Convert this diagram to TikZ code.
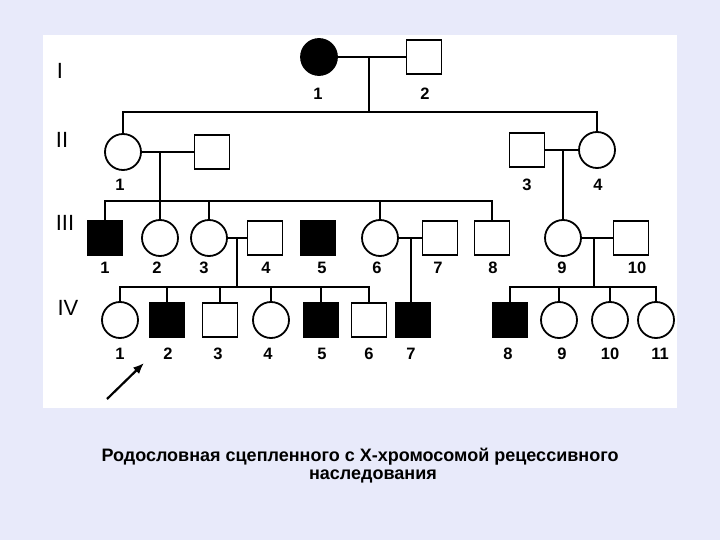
\documentclass[tikz,border=0pt]{standalone}
\usepackage{fontspec}
\setmainfont{Liberation Sans}
\usetikzlibrary{shapes.geometric,arrows.meta}
\definecolor{bg}{RGB}{232,234,250}
\begin{document}
\begin{tikzpicture}[x=1pt,y=-1pt,
  fem/.style={ellipse, draw, line width=1.8pt, minimum width=36pt, minimum height=36pt, inner sep=0pt},
  male/.style={rectangle, draw, line width=1.8pt, minimum width=35pt, minimum height=34pt, inner sep=0pt},
  aff/.style={fill=black},
  ln/.style={line width=1.8pt},
  lbl/.style={font=\fontsize{16.5}{16.5}\selectfont\bfseries, inner sep=0pt},
  gen/.style={font=\fontsize{22}{22}\selectfont, inner sep=0pt},
  ttl/.style={font=\fontsize{18}{18}\selectfont\bfseries, inner sep=0pt}]
\useasboundingbox (0,0) rectangle (720,540);
\fill[bg] (0,0) rectangle (720,540);
\fill[white] (43,35) rectangle (677,408);

% generation labels
\node[gen] (gI) at (60,71) {I};
\node[gen] (gII) at (62,140) {II};
\node[gen] (gIII) at (65,223) {III};
\node[gen] (gIV) at (68,308) {IV};

% generation I
\node[fem,aff] (I1) at (319,57) {};
\node[male] (I2) at (424,57) {};
\node[lbl] (lI1) at (318,94) {1};
\node[lbl] (lI2) at (425,94) {2};

% generation II
\node[fem] (II1) at (123,152) {};
\node[male] (II2) at (212,152) {};
\node[male] (II3) at (527,150) {};
\node[fem] (II4) at (597,150) {};
\node[lbl] (lII1) at (120,185) {1};
\node[lbl] (lII3) at (527,185) {3};
\node[lbl] (lII4) at (598,185) {4};

% generation III
\node[male,aff] (III1) at (105,238) {};
\node[fem] (III2) at (160,238) {};
\node[fem] (III3) at (209,238) {};
\node[male] (III4) at (265,238) {};
\node[male,aff] (III5) at (318,238) {};
\node[fem] (III6) at (380,238) {};
\node[male] (III7) at (440,238) {};
\node[male] (III8) at (492,238) {};
\node[fem] (III9) at (563,238) {};
\node[male] (III10) at (631,238) {};
\node[lbl] (lIII1) at (105,268) {1};
\node[lbl] (lIII2) at (157,268) {2};
\node[lbl] (lIII3) at (204,268) {3};
\node[lbl] (lIII4) at (266,268) {4};
\node[lbl] (lIII5) at (322,268) {5};
\node[lbl] (lIII6) at (377,268) {6};
\node[lbl] (lIII7) at (438,268) {7};
\node[lbl] (lIII8) at (493,268) {8};
\node[lbl] (lIII9) at (562,268) {9};
\node[lbl] (lIII10) at (637,268) {10};

% generation IV
\node[fem] (IV1) at (120,320) {};
\node[male,aff] (IV2) at (167,320) {};
\node[male] (IV3) at (220,320) {};
\node[fem] (IV4) at (271,320) {};
\node[male,aff] (IV5) at (321,320) {};
\node[male] (IV6) at (369,320) {};
\node[male,aff] (IV7) at (413,320) {};
\node[male,aff] (IV8) at (510,320) {};
\node[fem] (IV9) at (559,320) {};
\node[fem] (IV10) at (610,320) {};
\node[fem] (IV11) at (656,320) {};
\node[lbl] (lIV1) at (120,354) {1};
\node[lbl] (lIV2) at (168,354) {2};
\node[lbl] (lIV3) at (218,354) {3};
\node[lbl] (lIV4) at (268,354) {4};
\node[lbl] (lIV5) at (322,354) {5};
\node[lbl] (lIV6) at (369,354) {6};
\node[lbl] (lIV7) at (411,354) {7};
\node[lbl] (lIV8) at (508,354) {8};
\node[lbl] (lIV9) at (562,354) {9};
\node[lbl] (lIV10) at (610,354) {10};
\node[lbl] (lIV11) at (660,354) {11};

% coordinates for marriage midpoints and sibship lines
\coordinate (mI) at (369,57);
\coordinate (sI) at (369,112);
\coordinate (mII) at (160,152);
\coordinate (sII) at (160,201);
\coordinate (mIIb) at (563,150);
\coordinate (mIIIa) at (237,238);
\coordinate (sIVa) at (237,287);
\coordinate (mIIIb) at (411,238);
\coordinate (mIIIc) at (594,238);
\coordinate (sIVb) at (594,287);

% generation I connections
\draw[ln] (I1) -- (I2);
\draw[ln] (mI) -- (sI);
\draw[ln] (II1.north) -- (II1.north |- sI) -- (II4.north |- sI) -- (II4.north);

% generation II connections
\draw[ln] (II1) -- (II2);
\draw[ln] (II3) -- (II4);
\draw[ln] (mII) -- (III2.north);
\draw[ln] (mIIb) -- (III9.north);
\draw[ln] (III1.north) -- (III1.north |- sII) -- (III8.north |- sII) -- (III8.north);
\draw[ln] (III3.north) -- (III3.north |- sII);
\draw[ln] (III6.north) -- (III6.north |- sII);

% generation III connections
\draw[ln] (III3) -- (III4);
\draw[ln] (III6) -- (III7);
\draw[ln] (III9) -- (III10);
\draw[ln] (mIIIa) -- (sIVa);
\draw[ln] (mIIIb) -- (IV7.north -| mIIIb);
\draw[ln] (mIIIc) -- (sIVb);
\draw[ln] (IV1.north) -- (IV1.north |- sIVa) -- (IV6.north |- sIVa) -- (IV6.north);
\foreach \n in {IV2,IV3,IV4,IV5} \draw[ln] (\n.north) -- (\n.north |- sIVa);
\draw[ln] (IV8.north) -- (IV8.north |- sIVb) -- (IV11.north |- sIVb) -- (IV11.north);
\foreach \n in {IV9,IV10} \draw[ln] (\n.north) -- (\n.north |- sIVb);

% proband arrow
\coordinate (ar1) at (107,399);
\coordinate (ar2) at (144,363);
\draw[line width=2.2pt, -{Latex[length=11pt,width=9pt]}] (ar1) -- (ar2);

% title
\node[ttl] (t1) at (360,457) {Родословная сцепленного с Х-хромосомой рецессивного};
\node[ttl] (t2) at (373,476) {наследования};
\end{tikzpicture}
\end{document}
